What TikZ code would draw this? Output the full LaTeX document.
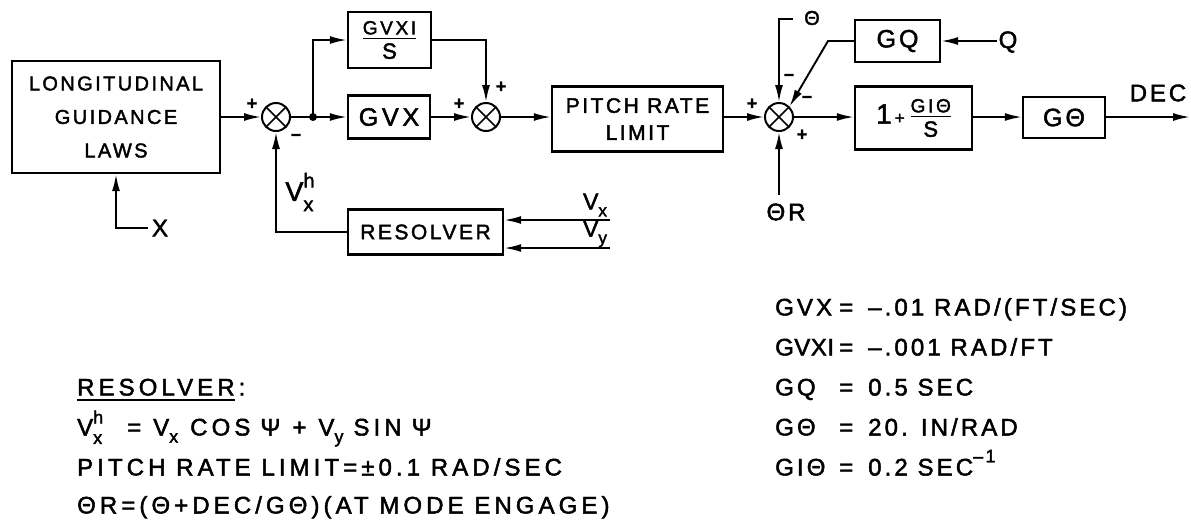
\documentclass[tikz,border=0pt]{standalone}
\usepackage{fontspec}
\setmainfont{Liberation Sans}[LetterSpace=12,FakeBold=2]
\usetikzlibrary{arrows.meta}
\newcommand\fs[1]{\fontsize{#1}{#1}\selectfont}
\newcommand\ls[1]{\addfontfeature{LetterSpace=#1}}
\newcommand\ulbox[1]{\setbox0\hbox{#1}\rlap{\rule[-5pt]{\wd0}{2pt}}\box0}
\newlength\frcw
\newcommand\frc[3]{\begingroup\setbox1\hbox{#1}\setbox2\hbox{#2}%
  \frcw=\wd1\relax
  \ifdim\wd2>\frcw \frcw=\wd2\relax\fi
  \raisebox{#3}{\vbox{\hbox to\frcw{\hss\box1\hss}\kern3pt\hrule height 1.8pt\kern4pt\hbox to\frcw{\hss\box2\hss}}}\endgroup}
\begin{document}
\begin{tikzpicture}[x=1pt,y=-1pt,
  blk/.style={draw, line width=2.4pt, inner sep=0pt, align=center},
  sumj/.style={draw, circle, line width=2pt, minimum size=28pt, inner sep=0pt,
    path picture={\draw[line width=1.7pt] (path picture bounding box.north west) -- (path picture bounding box.south east)
      (path picture bounding box.north east) -- (path picture bounding box.south west);}},
  sig/.style={font=\fs{18}\bfseries, inner sep=0pt},
  con/.style={line width=1.9pt, -{Latex[length=17pt,width=8pt]}},
  ln/.style={line width=1.9pt},
  lbl/.style={font=\fs{24}, inner sep=0pt},
  note/.style={font=\fs{24}\ls{17}, inner sep=0pt, anchor=base west},
  rnote/.style={font=\fs{24}\ls{13}, inner sep=0pt, anchor=base west},
]
\useasboundingbox (0,0) rectangle (1191,523);

% blocks
\node[blk, minimum width=208pt, minimum height=112pt, font=\fontsize{20}{33.5}\selectfont] (long) at (116,117) {LONGITUDINAL\\GUIDANCE\\LAWS};
\node[sumj] (s1) at (276,117) {};
\node[circle, fill, inner sep=0pt, minimum size=8pt] (j) at (313,117) {};
\node[blk, minimum width=83pt, minimum height=56pt] (gvxi) at (389.5,40) {\frc{\fs{19}\ls{14}GVXI}{\fs{22}S}{0pt}};
\node[blk, minimum width=82pt, minimum height=43pt, font=\fs{25}\ls{15}] (gvx) at (389,117) {GVX};
\node[sumj] (s2) at (486,117) {};
\node[blk, minimum width=171pt, minimum height=65pt, font=\fontsize{21}{27}\selectfont] (prl) at (637.5,119) {PITCH RATE\\LIMIT};
\node[sumj] (s3) at (779,117) {};
\node[blk, minimum width=85pt, minimum height=42pt, font=\fs{25}] (gq) at (897.5,41) {GQ};
\node[blk, minimum width=117pt, minimum height=63pt] (gi) at (913.5,118) {{\fs{28}1}\hspace{3pt}{\fs{17}+}\hspace{6pt}\frc{\fs{19}\ls{14}GIΘ}{\fs{22}S}{-13pt}};
\node[blk, minimum width=82pt, minimum height=41pt, font=\fs{25}] (gth) at (1064,117.5) {GΘ};
\node[blk, minimum width=155pt, minimum height=45pt, font=\fs{21}] (res) at (425.5,232) {RESOLVER};

% main path
\draw[con] (long.east |- s1.west) -- (s1.west);
\draw[ln] (s1.east) -- (j.center);
\draw[con] (j.center) -- (gvx.west |- j.center);
\draw[con] (j.center) |- (gvxi.west);
\draw[con] (gvxi.east) -| (s2.north);
\draw[con] (gvx.east |- s2.west) -- (s2.west);
\draw[con] (s2.east) -- (prl.west |- s2.east);
\draw[con] (prl.east |- s3.west) -- (s3.west);
\draw[con] (s3.east) -- (gi.west |- s3.east);
\draw[con] (gi.east |- s3.east) -- (gth.west |- s3.east);
\coordinate (decend) at (1190,117);
\draw[con] (gth.east |- s3.east) -- (decend);
\node[lbl] (dec) at (1158,93) {DEC};

% X input
\node[lbl] (xl) at (160,228) {X};
\coordinate (xin) at (148,228);
\draw[con] (xin) -| (long.south);

% feedback
\draw[con] (res.west) -| (s1.south);
\node[inner sep=0pt] (vxh) at (300,192) {\fs{27}V\rlap{\raisebox{-0.38em}{\fs{20}x}}\raisebox{0.5em}{\fs{20}h}};

% resolver inputs
\coordinate (vxin) at (610,220);
\coordinate (vyin) at (610,248);
\draw[con] (vxin) -- (vxin -| res.east);
\draw[con] (vyin) -- (vyin -| res.east);
\node[lbl, font=\fs{23}] (vxl) at (595,205) {V\raisebox{-0.3em}{\fs{17}x}};
\node[lbl, font=\fs{23}] (vyl) at (595,234) {V\raisebox{-0.3em}{\fs{17}y}};

% third summer inputs
\node[lbl, font=\fs{20}] (thl) at (812,18) {Θ};
\coordinate (thin) at (793,19);
\draw[con] (thin) -| (s3.north);
\node[lbl] (ql) at (1008,42) {Q};
\coordinate (qin) at (997,41);
\draw[con] (qin) -- (gq.east);
\coordinate (gqk) at (828,41);
\draw[con] (gq.west) -- (gqk) -- (s3.north east);
\node[lbl] (thr) at (786,212) {ΘR};
\coordinate (thrin) at (779,195);
\draw[con] (thrin) -- (s3.south);

% signs
\node[sig] at (252,104) {+};
\node[sig] at (296,137) {–};
\node[sig] at (459,104) {+};
\node[sig] at (501,87) {+};
\node[sig] at (752,104) {+};
\node[sig] at (789,77) {–};
\node[sig] at (807,99) {–};
\node[sig] at (802,135) {+};

% notes left
\node[note] (n1) at (77,395.5) {\ulbox{RESOLVER}\,:};
\node[note] (n2) at (77,435.5) {V\rlap{\raisebox{-0.35em}{\fs{18}x}}\raisebox{0.5em}{\fs{18}h}\hspace{24pt}=\hspace{12pt}V\raisebox{-0.3em}{\fs{18}x}\hspace{12pt}COS\hspace{10pt}Ψ\hspace{12pt}+\hspace{12pt}V\raisebox{-0.3em}{\fs{18}y}\hspace{10pt}SIN\hspace{10pt}Ψ};
\node[note] (n3) at (77,475.5) {PITCH RATE LIMIT=±0.1 RAD/SEC};
\node[note] (n4) at (77,513.5) {ΘR=(Θ+DEC/GΘ)(AT MODE ENGAGE)};

% notes right
\node[rnote] (rn1) at (775,315.5) {GVX};
\node[rnote] (rn2) at (775,355.5) {\ls{2}GVXI};
\node[rnote] (rn3) at (775,395.5) {GQ};
\node[rnote] (rn4) at (775,435.5) {GΘ};
\node[rnote] (rn5) at (775,475.5) {GIΘ};
\foreach \r/\yy in {1/315.5,2/355.5,3/395.5,4/435.5,5/475.5}
  \node[rnote] (re\r) at (839,\yy) {=};
\node[rnote] (rv1) at (868,315.5) {–.01 RAD/(FT/SEC)};
\node[rnote] (rv2) at (868,355.5) {–.001 RAD/FT};
\node[rnote] (rv3) at (868,395.5) {0.5 SEC};
\node[rnote] (rv4) at (868,435.5) {20. IN/RAD};
\node[rnote] (rv5) at (868,475.5) {0.2 SEC\raisebox{0.55em}{\fs{18}–1}};
\end{tikzpicture}
\end{document}
